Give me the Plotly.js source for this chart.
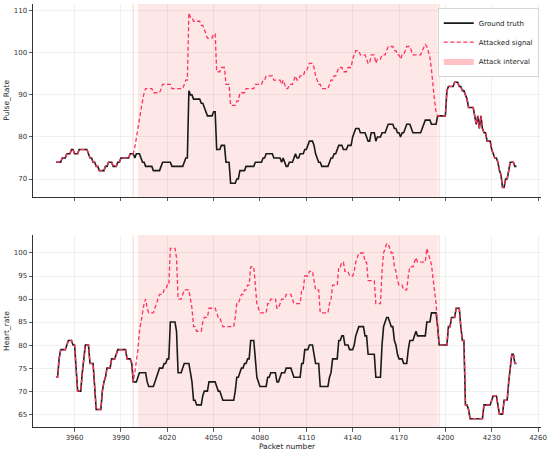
<!DOCTYPE html>
<html>
<head>
<meta charset="utf-8">
<script src="https://cdn.plot.ly/plotly-3.0.1.min.js"></script>
<style>
  html, body { margin: 0; padding: 0; background: #fff; }
  #chart { width: 550px; height: 452px; }
</style>
</head>
<body>
<div id="chart"></div>
<script>
// ---- Data ----
const packetStart = 3948;          // first packet number shown
const attackStart = 4001;          // attack interval (shaded)
const attackEnd = 4195;
const attackMarks = [3998, 4196];  // faint edge lines

const xTickVals = [3960, 3990, 4020, 4050, 4080, 4110, 4140, 4170, 4200, 4230, 4260];
const pulseTicks = [70, 80, 90, 100, 110];
const heartTicks = [65, 70, 75, 80, 85, 90, 95, 100];

// Pulse_Rate — ground truth, packets 3948..4246
const pulseTruth = [
  74,74,74,74,75,75,75,76,76,76,
  77,77,76,76,76,77,77,77,77,77,
  77,76,75,75,74,74,73,73,72,72,
  72,72,73,73,74,74,74,73,73,73,
  74,74,75,75,75,75,75,75,76,76,
  76,75,76,76,76,75,74,74,73,73,
  73,73,73,72,72,72,72,72,73,74,
  74,74,74,74,74,73,73,73,73,73,
  73,73,73,74,75,75,91,90,90,89,
  89,89,89,89,88,88,87,86,85,85,
  85,85,86,86,77,77,77,78,78,78,
  74,74,74,69,69,69,69,70,70,72,
  72,72,72,73,73,73,73,73,73,74,
  74,74,74,74,75,75,76,76,76,76,
  76,75,75,75,75,75,74,75,74,73,
  73,74,74,74,75,76,75,75,76,76,
  76,77,77,78,79,79,79,78,76,75,
  74,74,73,73,73,73,73,74,75,75,
  76,76,77,78,78,78,77,77,77,78,
  78,78,80,81,82,82,82,81,81,81,
  81,80,79,79,81,81,81,79,80,80,
  80,81,81,81,82,83,83,83,83,82,
  82,81,81,80,81,81,82,83,83,83,
  82,81,81,81,81,81,81,82,83,84,
  84,84,84,83,83,83,83,85,85,85,
  85,85,85,91,92,92,92,92,93,93,
  93,92,92,91,91,90,89,87,87,87,
  87,85,83,85,82,85,82,81,81,79,
  79,79,77,76,75,75,74,72,71,68,
  68,70,70,72,74,74,74,73,73
];

// Pulse_Rate — attacked signal, packets 3948..4246
const pulseAttacked = [
  74,74,74,74,75,75,75,76,76,76,
  77,77,76,76,76,77,77,77,77,77,
  77,76,75,75,74,74,73,73,72,72,
  72,72,73,73,74,74,74,73,73,73,
  74,74,75,75,75,75,75,75,76,76,
  76,77.5,80,82.5,85,86.5,88.5,90.5,91.5,91.5,
  91.5,91.5,91.5,90.5,90.5,90.5,90.5,90.5,91.5,92.5,
  92.5,92.5,92.5,92.5,92.5,91.5,91.5,91.5,91.5,91.5,
  91.5,91.5,91.5,92.5,93.5,93.5,109.5,108.5,108.5,107.5,
  107.5,107.5,107.5,107.5,106.5,106.5,105.5,104.5,103.5,103.5,
  103.5,103.5,104.5,104.5,95.5,95.5,95.5,96.5,96.5,96.5,
  92.5,92.5,92.5,87.5,87.5,87.5,87.5,88.5,88.5,90.5,
  90.5,90.5,90.5,91.5,91.5,91.5,91.5,91.5,91.5,92.5,
  92.5,92.5,92.5,92.5,93.5,93.5,94.5,94.5,94.5,94.5,
  94.5,93.5,93.5,93.5,93.5,93.5,92.5,93.5,92.5,91.5,
  91.5,92.5,92.5,92.5,93.5,94.5,93.5,93.5,94.5,94.5,
  94.5,95.5,95.5,96.5,97.5,97.5,97.5,96.5,94.5,93.5,
  92.5,92.5,91.5,91.5,91.5,91.5,91.5,92.5,93.5,93.5,
  94.5,94.5,95.5,96.5,96.5,96.5,95.5,95.5,95.5,96.5,
  96.5,96.5,98.5,99.5,100.5,100.5,100.5,99.5,99.5,99.5,
  99.5,98.5,97.5,97.5,99.5,99.5,99.5,97.5,98.5,98.5,
  98.5,99.5,99.5,99.5,100.5,101.5,101.5,101.5,101.5,100.5,
  100.5,99.5,99.5,98.5,99.5,99.5,100.5,101.5,101.5,101.5,
  100.5,99.5,99.5,99.5,99.5,99.5,99.5,100.5,101.5,102,
  101.5,100.5,99,96,92,88.5,86,85,85,85,
  85,85,85,91,92,92,92,92,93,93,
  93,92,92,91,91,90,89,87,87,87,
  87,85,83,85,82,85,82,81,81,79,
  79,79,77,76,75,75,74,72,71,68,
  68,70,70,72,74,74,74,73,73
];

// Heart_rate — ground truth, packets 3948..4246
const heartTruth = [
  73,73,77,79,79,79,79,80,81,81,
  81,80,80,75,70,70,70,74,77,80,
  80,80,76,76,76,71,66,66,66,66,
  70,72,73,75,75,75,77,77,77,78,
  79,79,79,79,79,79,77,77,77,76,
  72,72,72,73,74,74,74,74,74,72,
  71,71,71,71,72,73,74,75,75,75,
  76,76,77,77,85,85,85,85,83,74,
  74,74,75,76,76,76,76,74,72,68,
  68,67,67,67,67,69,70,70,70,72,
  72,72,72,72,71,70,70,69,68,68,
  68,68,68,68,68,68,70,73,73,74,
  75,75,76,76,77,77,81,81,81,77,
  73,72,71,71,71,71,71,73,73,74,
  74,74,74,72,72,73,74,74,74,75,
  75,75,75,74,73,73,73,73,73,76,
  76,79,79,79,80,80,80,78,76,76,
  76,71,71,71,71,71,71,73,74,77,
  77,77,77,81,81,82,82,80,80,80,
  79,79,79,80,82,83,84,84,84,84,
  82,82,78,78,78,78,78,73,73,73,
  73,80,84,85,86,86,85,84,84,81,
  80,78,77,77,77,76,76,76,79,81,
  81,81,82,83,82,82,82,82,82,82,
  85,85,85,87,87,87,87,84,80,80,
  80,80,80,80,84,84,86,86,86,88,
  88,88,84,81,81,67,67,66,64,64,
  64,64,64,64,64,64,64,67,67,67,
  67,67,68,69,69,69,67,65,65,65,
  68,68,68,72,75,78,78,76,76
];

// Heart_rate — attacked signal, packets 3948..4246
const heartAttacked = [
  73,73,77,79,79,79,79,80,81,81,
  81,80,80,75,70,70,70,74,77,80,
  80,80,76,76,76,71,66,66,66,66,
  70,72,73,75,75,75,77,77,77,78,
  79,79,79,79,79,79,77,77,77,76,
  72,74,76,79,83,85.5,87,89,90,88,
  87,87,87,87,88,89,90,91,91,91,
  92,92,93,93,101,101,101,101,99,90,
  90,90,91,92,92,92,92,90,88,84,
  84,83,83,83,83,85,86,86,86,88,
  88,88,88,88,87,86,86,85,84,84,
  84,84,84,84,84,84,86,89,89,90,
  91,91,92,92,93,93,97,97,97,93,
  89,88,87,87,87,87,87,89,89,90,
  90,90,90,88,88,89,90,90,90,91,
  91,91,91,90,89,89,89,89,89,92,
  92,95,95,95,96,96,96,94,92,92,
  92,87,87,87,87,87,87,89,90,93,
  93,93,93,97,97,98,98,96,96,96,
  95,95,95,96,98,99,100,100,100,100,
  98,98,94,94,94,94,94,89,89,89,
  89,96,100,101,102,102,101,100,100,97,
  96,94,93,93,93,92,92,92,95,97,
  97,97,98,99,98,98,98,98,98,98,
  101,100,99,97.5,94.5,92,89,84,80,80,
  80,80,80,80,84,84,86,86,86,88,
  88,88,84,81,81,67,67,66,64,64,
  64,64,64,64,64,64,64,67,67,67,
  67,67,68,69,69,69,67,65,65,65,
  68,68,68,72,75,78,78,76,76
];

// packet numbers (index axis)
const packets = pulseTruth.map((_, i) => packetStart + i);

// ---- Styling ----
const FONT = 'DejaVu Sans, Liberation Sans, Arial, sans-serif';
const truthColor = '#1a1a1a';
const attackColor = '#ff3358';
const spanFill = 'rgba(245,60,60,0.12)';
const markLine = 'rgba(255,120,120,0.22)';
const gridColor = 'rgba(0,0,0,0.07)';
const dashStyle = '4px,2.5px';

const traces = [
  { x: packets, y: pulseTruth, xaxis: 'x', yaxis: 'y', type: 'scatter', mode: 'lines',
    name: 'Ground truth', legendgroup: 'gt',
    line: { color: truthColor, width: 1.6 } },
  { x: packets, y: pulseAttacked, xaxis: 'x', yaxis: 'y', type: 'scatter', mode: 'lines',
    name: 'Attacked signal', legendgroup: 'att',
    line: { color: attackColor, width: 1.3, dash: dashStyle } },
  { x: [null], y: [null], xaxis: 'x', yaxis: 'y', type: 'scatter', mode: 'lines',
    name: 'Attack interval', fill: 'toself', fillcolor: 'rgba(255,150,160,0.6)',
    line: { width: 0, color: 'rgba(255,150,160,0.6)' } },
  { x: packets, y: heartTruth, xaxis: 'x2', yaxis: 'y2', type: 'scatter', mode: 'lines',
    name: 'Ground truth', legendgroup: 'gt', showlegend: false,
    line: { color: truthColor, width: 1.6 } },
  { x: packets, y: heartAttacked, xaxis: 'x2', yaxis: 'y2', type: 'scatter', mode: 'lines',
    name: 'Attacked signal', legendgroup: 'att', showlegend: false,
    line: { color: attackColor, width: 1.3, dash: dashStyle } }
];

const shapes = [];
[['x', 'y domain'], ['x2', 'y2 domain']].forEach(([xr, yr]) => {
  shapes.push({ type: 'rect', xref: xr, yref: yr, x0: attackStart, x1: attackEnd, y0: 0, y1: 1,
    fillcolor: spanFill, line: { width: 0 }, layer: 'below' });
  attackMarks.forEach(m => shapes.push({ type: 'line', xref: xr, yref: yr, x0: m, x1: m, y0: 0, y1: 1,
    line: { color: markLine, width: 1.5 }, layer: 'below' }));
});

const xCommon = {
  range: [3933.1, 4261.9], tickvals: xTickVals, ticks: 'outside', ticklen: 3.5, tickwidth: 0.8,
  tickcolor: '#333', showline: true, linecolor: '#333', linewidth: 1,
  showgrid: true, gridcolor: gridColor, gridwidth: 0.8, zeroline: false,
  tickfont: { family: FONT, size: 7, color: '#333' }
};
const yCommon = {
  ticks: 'outside', ticklen: 3.5, tickwidth: 0.8, tickcolor: '#333',
  showline: true, linecolor: '#333', linewidth: 1,
  showgrid: true, gridcolor: gridColor, gridwidth: 0.8, zeroline: false,
  tickfont: { family: FONT, size: 7, color: '#333' }
};

const layout = {
  width: 550, height: 452,
  margin: { l: 33, r: 9, t: 4, b: 25 },
  paper_bgcolor: '#fff', plot_bgcolor: '#fff',
  font: { family: FONT, size: 7, color: '#222' },
  showlegend: true,
  legend: { x: 0.996, xanchor: 'right', y: 0.991, yanchor: 'top',
    bgcolor: 'rgba(255,255,255,0.9)', bordercolor: '#cccccc', borderwidth: 0.8,
    font: { family: FONT, size: 7, color: '#222' }, tracegroupgap: 0, itemwidth: 30 },
  xaxis: Object.assign({}, xCommon, { anchor: 'y', domain: [0, 1], showticklabels: false, matches: 'x2' }),
  xaxis2: Object.assign({}, xCommon, { anchor: 'y2', domain: [0, 1], showticklabels: true,
    title: { text: 'Packet number', font: { family: FONT, size: 7.5, color: '#222' }, standoff: 2 } }),
  yaxis: Object.assign({}, yCommon, { anchor: 'x', domain: [0.5445, 1], range: [65.8, 111.6],
    tickvals: pulseTicks,
    title: { text: 'Pulse_Rate', font: { family: FONT, size: 7.5, color: '#222' }, standoff: 3 } }),
  yaxis2: Object.assign({}, yCommon, { anchor: 'x2', domain: [0, 0.4538], range: [62.2, 103.9],
    tickvals: heartTicks,
    title: { text: 'Heart_rate', font: { family: FONT, size: 7.5, color: '#222' }, standoff: 3 } }),
  shapes: shapes
};

Plotly.newPlot('chart', traces, layout, { displayModeBar: false, staticPlot: true });
</script>
</body>
</html>
